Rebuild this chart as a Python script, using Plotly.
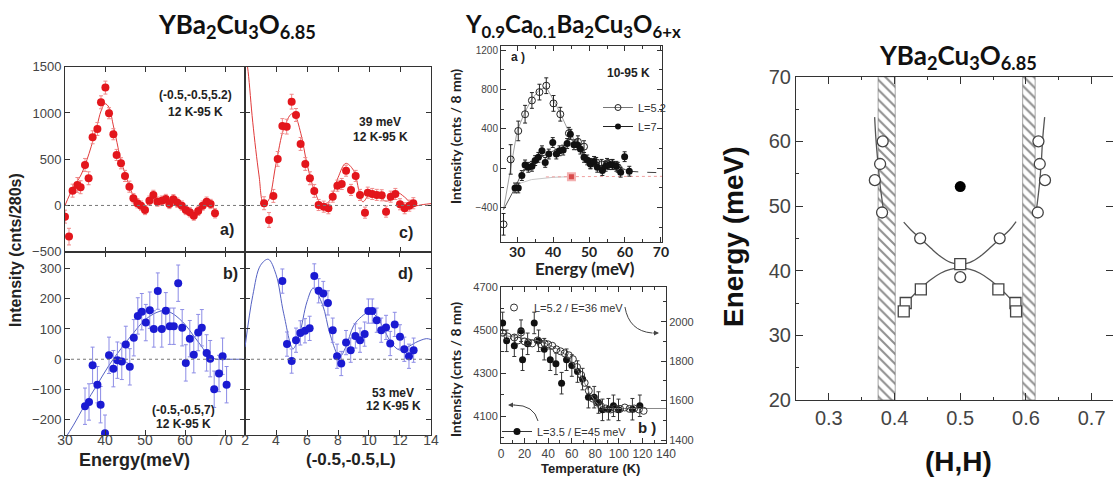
import plotly.graph_objects as go

W, H = 1113, 477
def X(px): return px / W
def Y(py): return 1 - py / H

# ---------------- DATA ----------------
# Left panel a) : energy scan at (-0.5,-0.5,5.2), 12K-95K (red)
a_energy = [30, 31, 31.9, 33.1, 33.9, 35, 35.9, 36.9, 38.1, 39, 40.1, 41, 42.1, 42.9, 44, 45, 46.1, 47.1, 48.1, 49,
            50, 51.1, 52.1, 53.1, 54.2, 55.2, 56.1, 57.1, 58.1, 59.2, 60.2, 61.2, 62.2, 63.3, 64.4, 65.4, 66.4, 67.5]
a_int = [-121, -337, 160, 222, 197, 438, 294, 737, 827, 1115, 1274, 997, 770, 546, 456, 319, 203, 78, 24, -2,
         -49, 52, 114, 41, 52, 70, 16, 67, 30, -2, -49, -74, -110, -59, -2, 41, 16, -85]
a_err = [70, 90, 70, 80, 70, 70, 70, 70, 70, 70, 70, 60, 60, 60, 60, 60, 60, 50, 50, 50,
         50, 50, 50, 50, 50, 50, 50, 50, 50, 50, 50, 50, 50, 50, 50, 50, 50, 50]
a_fit_energy = [30, 32, 34, 36, 38, 39, 40, 41, 42, 43, 44, 45, 46, 47, 48, 49, 50, 52, 54, 56, 58, 60, 62, 64, 66, 67.5]
a_fit_int = [0, 190, 330, 560, 860, 1020, 1100, 1060, 880, 680, 480, 350, 220, 110, 40, 5, -10, 60, 60, 50, 30, -30, -90, -20, 30, -60]

# Left panel c) : L scan at 39 meV (red)
c_L = [3.23, 3.55, 3.83, 4.11, 4.41, 4.69, 5.01, 5.29, 5.59, 5.89, 6.19, 6.47, 6.75, 7.08, 7.38, 7.66, 7.96,
       8.24, 8.52, 8.84, 9.14, 9.42, 9.74, 9.92, 10.21, 10.5, 10.82, 11.1, 11.4, 11.7, 12.0, 12.3, 12.6, 12.86]
c_int = [24, -157, 103, 503, 859, 852, 1122, 978, 665, 449, 294, 157, 5, -13, -30, 95, 214,
         232, 376, 168, 319, 114, -78, 138, 124, 114, 110, -67, 95, 124, 13, -30, -2, 24]
c_err = [70, 80, 70, 80, 80, 80, 80, 70, 70, 70, 70, 70, 60, 60, 60, 60, 60,
         60, 60, 60, 60, 60, 60, 60, 60, 60, 60, 60, 60, 60, 60, 60, 60, 60]
c_fit_L = [2.0, 2.2, 2.5, 2.9, 3.2, 3.5, 4.0, 4.5, 5.0, 5.2, 5.6, 6.0, 6.5, 7.0, 7.5, 8.0, 8.5, 9.0, 9.6,
           10.0, 10.6, 11.0, 11.4, 11.8, 12.3, 12.9, 13.5, 14.0]
c_fit_int = [1700, 1450, 900, 330, 20, 50, 450, 830, 990, 980, 780, 450, 150, 0, 60, 300, 455, 380, 40,
             110, 120, 50, 60, 140, 90, 0, 10, 20]

# Left panel b) : energy scan at (-0.5,-0.5,7) (blue)
b_energy = [35, 36, 36.9, 38.1, 38.9, 40, 41, 42.1, 43.1, 44.2, 45.2, 46.2, 47.2, 48.2, 49.2, 50.2, 51.2, 52.2,
            53.2, 54.2, 55.2, 56.2, 57.2, 58.3, 59.3, 60.2, 61.2, 62.2, 63.3, 64.2, 65.4, 66.3, 67.3, 68.5, 69.4, 70.4]
b_int = [-155, -141, -20, -84, -150, -244, 13, -31, -3, -7, 49, -25, 71, 143, 157, 121, 162, 100,
         225, 100, 160, 109, 109, 251, 104, -12, 68, 15, 88, 104, 21, 2, -99, -47, 10, -84]
b_err = [60] * 36
b_fit_energy = [30, 32, 35, 38, 41, 44, 47, 50, 53, 55, 57, 60, 62, 64, 66, 68, 70, 75]
b_fit_int = [-262, -220, -150, -85, -20, 35, 85, 130, 155, 160, 150, 115, 80, 45, 10, 0, 0, 0]

# Left panel d) : L scan at 53 meV (blue)
d_L = [4.41, 4.71, 5.01, 5.29, 5.57, 5.87, 6.17, 6.47, 6.75, 7.05, 7.35, 7.66, 7.94, 8.21, 8.52, 8.82, 9.12,
       9.42, 9.72, 9.96, 10.21, 10.5, 10.79, 11.1, 11.37, 11.66, 12.0, 12.28, 12.58, 12.88]
d_int = [258, 50, -6, 63, 87, 94, 102, 275, 226, 217, 186, 96, 10, -14, 55, 30, 77,
         63, 83, 159, 159, 129, 96, 105, 52, 115, 74, 33, 10, 30]
d_err = [40] * 30
d_fit_L = [2.0, 2.5, 3.0, 3.5, 4.0, 4.5, 5.1, 5.5, 6.0, 6.4, 7.0, 7.5, 8.1, 8.5, 9.0, 9.5, 10.06, 10.5,
           11.0, 11.5, 12.0, 12.5, 13.0, 13.7, 14.0]
d_fit_int = [40, 210, 310, 330, 280, 150, 35, 80, 190, 234, 180, 80, 8, 40, 110, 140, 157, 140,
             95, 50, 30, 40, 55, 68, 65]

# Middle top a) : Y0.9Ca0.1Ba2Cu3O6+x, 10-95 K
mt_E52 = [26.2, 28.2, 30.3, 32.2, 34.1, 36.2, 38.1, 40.1, 42.0, 44.4, 46.9, 48.6, 50.4, 52.0, 53.5, 55.0, 56.5, 58.0]
mt_I52 = [-570, 90, 380, 550, 690, 775, 840, 660, 550, 356, 270, 220, 50, 60, 40, 50, 40, 10]
mt_err52 = [110, 150, 100, 90, 80, 80, 80, 80, 70, 60, 60, 60, 50, 50, 50, 50, 50, 50]
mt_line52_E = [26.2, 28.0, 30.0, 32.0, 34.0, 36.0, 38.0, 40.0, 42.0, 44.0, 46.0, 48.0, 50.0, 52.0, 55.0, 60.0]
mt_line52_I = [-420, -20, 380, 560, 700, 790, 830, 700, 560, 400, 290, 170, 60, 30, 20, -10]
mt_E7 = [29.4, 30.3, 31.3, 32.2, 33.1, 34.1, 35, 35.9, 36.9, 37.8, 38.8, 39.9, 40.9, 41.8, 42.8, 43.9, 44.8,
         45.8, 46.7, 47.6, 48.6, 49.5, 50.4, 51.4, 52.3, 53.7, 54.6, 55.6, 56.5, 57.6, 58.8, 59.9, 61.2]
mt_I7 = [-200, -200, -74, 34, 10, 20, 78, 111, 178, 60, 145, 262, 145, 178, 185, 252, 346,
         239, 239, 195, 111, 85, 44, 70, 10, -23, 20, 37, 37, 20, -40, 118, -30]
mt_err7 = [50] * 33
mt_line7_E = [26.2, 29.4, 31, 33, 35, 37, 39, 41, 43, 44.8, 46.5, 48.5, 50.5, 53, 56, 59, 61.2]
mt_line7_I = [-420, -200, -70, 20, 80, 120, 160, 190, 220, 300, 240, 130, 60, 20, 30, 0, -30]
mt_tail_E = [61.2, 65, 70.3]
mt_tail_I = [-30, -40, -45]
mt_ref_E = [28.9, 31, 34, 37, 40, 45.1]
mt_ref_I = [-190, -150, -115, -100, -92, -85]
mt_refred_E = [38, 45.1, 70.3]
mt_refred_I = [-88, -85, -82]
mt_square_E = [45.1]
mt_square_I = [-85]

# Middle bottom b) : temperature dependence
mb_T_filled = [1.4, 4.8, 11.3, 17.0, 18.3, 22.6, 28.2, 31.9, 36.7, 41.8, 46.6, 51.4, 55.6, 60.1, 64.9, 69.2,
               74.2, 79.1, 82.7, 86.1, 91.2, 95.4, 99.7, 111.5, 117.8]
mb_I_filled = [4533, 4450, 4427, 4497, 4362, 4436, 4533, 4450, 4411, 4362, 4343, 4253, 4362, 4335, 4307, 4272,
               4188, 4188, 4163, 4129, 4132, 4148, 4129, 4132, 4148]
mb_err_filled = [50] * 25
mb_T_open = [1.4, 5.6, 11.3, 14.5, 17.0, 20.0, 23.0, 26.5, 31.0, 34.0, 37.0, 40.0, 43.5, 47.0, 50.5, 54.0, 57.5,
             61.0, 64.5, 68.0, 71.0, 74.5, 78.0, 81.5, 85.0, 89.0, 93.0, 97.0, 101.0, 105.0, 109.0, 113.0, 117.0, 121.0]
mb_I_open = [1944, 1925, 1920, 1905, 1945, 1900, 1895, 1890, 1905, 1885, 1890, 1885, 1878, 1860, 1850, 1840, 1830,
             1810, 1770, 1730, 1690, 1650, 1610, 1590, 1570, 1560, 1555, 1560, 1558, 1565, 1558, 1560, 1555, 1548]
mb_fit_T = [0, 10, 20, 30, 40, 50, 55, 60, 65, 70, 75, 80, 85, 90, 100, 120, 140]
mb_fit_I = [1932, 1925, 1915, 1905, 1885, 1855, 1830, 1800, 1755, 1700, 1640, 1595, 1565, 1560, 1560, 1560, 1560]

# Right panel : dispersion YBa2Cu3O6.85
r_circ_H = [0.370, 0.378, 0.382, 0.381, 0.619, 0.621, 0.629, 0.618, 0.439, 0.560, 0.500]
r_circ_E = [54.0, 56.5, 60.0, 49.0, 60.0, 56.5, 54.0, 49.0, 45.0, 45.0, 39.0]
r_sq_H = [0.500, 0.440, 0.558, 0.417, 0.414, 0.584, 0.585]
r_sq_E = [41.0, 37.1, 37.1, 35.0, 33.7, 35.0, 33.7]
r_dot_H = [0.5]
r_dot_E = [53.0]
r_left_H = [0.3697, 0.3717, 0.3747, 0.3782, 0.3834]
r_left_E = [63.75, 60.3, 56.7, 53.1, 49.2]
r_right_H = [0.6285, 0.6254, 0.6233, 0.6203, 0.6157]
r_right_E = [63.75, 60.3, 56.7, 53.1, 49.2]
r_curve_H = [0.414, 0.425, 0.44, 0.455, 0.47, 0.485, 0.5, 0.515, 0.53, 0.545, 0.56, 0.575, 0.585]
r_upper_E = [47.5, 46.3, 44.9, 43.5, 42.2, 41.3, 41.0, 41.3, 42.2, 43.5, 44.9, 46.3, 47.6]
r_lower_E = [34.2, 35.8, 37.3, 38.6, 39.6, 40.2, 40.4, 40.2, 39.6, 38.6, 37.3, 35.8, 34.2]
r_bands = [(0.375, 0.401), (0.595, 0.614)]
r_Erange = [20, 70]

# ---------------- STYLE ----------------
TICKF = "Liberation Sans, Arial, sans-serif"
TITF = "Lato, 'Open Sans', sans-serif"
RED, RED_E, RED_L = "#e3161c", "#f08a8a", "#e03a3a"
BLUE, BLUE_E, BLUE_L = "#1a1ad2", "#8c8ce6", "#5562c4"
INK = "#333333"

fig = go.Figure()

def add(x, y, xa, ya, **kw):
    kw.setdefault("showlegend", False)
    fig.add_trace(go.Scatter(x=x, y=y, xaxis=xa, yaxis=ya, **kw))

def errs(arr, color):
    return dict(type="data", array=arr, visible=True, color=color, thickness=1, width=2)

# left panels
add(a_fit_energy, a_fit_int, "x", "y", mode="lines", line=dict(color=RED_L, width=1, shape="spline"))
add(a_energy, a_int, "x", "y", mode="markers", marker=dict(color=RED, size=8), error_y=errs(a_err, RED_E))
add(c_fit_L, c_fit_int, "x2", "y2", mode="lines", line=dict(color=RED_L, width=1, shape="spline"))
add(c_L, c_int, "x2", "y2", mode="markers", marker=dict(color=RED, size=8), error_y=errs(c_err, RED_E))
add(b_fit_energy, b_fit_int, "x3", "y3", mode="lines", line=dict(color=BLUE_L, width=1, shape="spline"))
add(b_energy, b_int, "x3", "y3", mode="markers", marker=dict(color=BLUE, size=8), error_y=errs(b_err, BLUE_E))
add(d_fit_L, d_fit_int, "x4", "y4", mode="lines", line=dict(color=BLUE_L, width=1, shape="spline"))
add(d_L, d_int, "x4", "y4", mode="markers", marker=dict(color=BLUE, size=8), error_y=errs(d_err, BLUE_E))

# middle top
add(mt_ref_E, mt_ref_I, "x5", "y5", mode="lines", line=dict(color="#c8c8c8", width=1))
add(mt_refred_E, mt_refred_I, "x5", "y5", mode="lines", line=dict(color="#f0a0a0", width=1, dash="dot"))
add(mt_square_E, mt_square_I, "x5", "y5", mode="markers",
    marker=dict(symbol="square", color="#d84a4a", size=7, line=dict(color="#f3b0b0", width=2)))
add(mt_line52_E, mt_line52_I, "x5", "y5", mode="lines", line=dict(color="#a0a0a0", width=1))
add(mt_line7_E, mt_line7_I, "x5", "y5", mode="lines", line=dict(color="#555555", width=1))
add(mt_tail_E, mt_tail_I, "x5", "y5", mode="lines", line=dict(color="#444444", width=1, dash="dash"))
add(mt_E52, mt_I52, "x5", "y5", mode="markers",
    marker=dict(symbol="circle-open", color="#222", size=7, line=dict(width=1)), error_y=errs(mt_err52, "#222"))
add(mt_E7, mt_I7, "x5", "y5", mode="markers", marker=dict(color="#111", size=7), error_y=errs(mt_err7, "#222"))
fig.add_trace(go.Scatter(x=[None], y=[None], xaxis="x5", yaxis="y5", name="L=5.2", mode="lines+markers",
                         line=dict(color="#777", width=1),
                         marker=dict(symbol="circle-open", color="#222", size=6, line=dict(width=1)), legend="legend"))
fig.add_trace(go.Scatter(x=[None], y=[None], xaxis="x5", yaxis="y5", name="L=7", mode="lines+markers",
                         line=dict(color="#222", width=1), marker=dict(color="#111", size=6), legend="legend"))

# middle bottom
add(mb_fit_T, mb_fit_I, "x6", "y7", mode="lines", line=dict(color="#888", width=1))
add(mb_T_open, mb_I_open, "x6", "y7", mode="markers",
    marker=dict(symbol="circle-open", color="#333", size=7, line=dict(width=1)))
add(mb_T_filled, mb_I_filled, "x6", "y6", mode="markers", marker=dict(color="#111", size=7),
    error_y=errs(mb_err_filled, "#333"))
fig.add_trace(go.Scatter(x=[None], y=[None], xaxis="x6", yaxis="y6", name="L=5.2 / E=36 meV", mode="markers",
                         marker=dict(symbol="circle-open", color="#333", size=7, line=dict(width=1)), legend="legend2"))
fig.add_trace(go.Scatter(x=[None], y=[None], xaxis="x6", yaxis="y6", name="L=3.5 / E=45 meV", mode="lines+markers",
                         line=dict(color="#333", width=1), marker=dict(color="#111", size=7), legend="legend3"))

# right panel
for (h0, h1) in r_bands:
    add([h0, h1, h1, h0, h0], [r_Erange[0], r_Erange[0], r_Erange[1], r_Erange[1], r_Erange[0]], "x7", "y8",
        mode="lines", fill="toself", fillcolor="white", line=dict(color="#666", width=0.6),
        fillpattern=dict(shape="\\", fgcolor="#222", bgcolor="white", size=7, solidity=0.3))
for hx, ey in [(r_left_H, r_left_E), (r_right_H, r_right_E), (r_curve_H, r_upper_E), (r_curve_H, r_lower_E)]:
    add(hx, ey, "x7", "y8", mode="lines", line=dict(color="#555", width=1.3, shape="spline"))
add(r_circ_H, r_circ_E, "x7", "y8", mode="markers",
    marker=dict(symbol="circle", color="white", size=11, line=dict(color="#444", width=1.3)))
add(r_sq_H, r_sq_E, "x7", "y8", mode="markers",
    marker=dict(symbol="square", color="white", size=11, line=dict(color="#444", width=1.3)))
add(r_dot_H, r_dot_E, "x7", "y8", mode="markers", marker=dict(color="black", size=11))
add([None], [None], "x7", "y9", mode="markers")

# ---------------- AXES ----------------
def axis(dom, rng, dtick, anchor, labels=True, size=13, minor=None, tick0=None, font=TICKF, weight="normal",
         ticklen=5, mirror="ticks", color="#444", standoff=0):
    d = dict(domain=dom, range=rng, dtick=dtick, anchor=anchor, showline=True, linecolor=INK, linewidth=1,
             mirror=mirror, ticks="inside", ticklen=ticklen, tickcolor=INK, showgrid=False, zeroline=False,
             showticklabels=labels, automargin=False, ticklabelstandoff=standoff,
             tickfont=dict(family=font, size=size, color=color, weight=weight))
    if tick0 is not None:
        d["tick0"] = tick0
    if minor is not None:
        d["minor"] = dict(ticks="inside", dtick=minor, ticklen=3, tickcolor=INK)
    return d

xa = [X(65), X(245)]
xc = [X(245), X(431)]
ytop = [Y(251.7), Y(66.7)]
ybot = [Y(435), Y(251.7)]

lay = {}
lay["xaxis"] = axis(xa, [30, 75], 10, "y", labels=False, tick0=30)
lay["yaxis"] = axis(ytop, [-500, 1500], 500, "x")
lay["xaxis2"] = axis(xc, [2, 14], 2, "y2", labels=False, tick0=2)
lay["yaxis2"] = axis(ytop, [-500, 1500], 500, "x2", labels=False)
lay["xaxis3"] = axis(xa, [30, 75], 10, "y3", tick0=30, size=14, standoff=-8)
lay["yaxis3"] = axis(ybot, [-250, 355], 100, "x3")
lay["xaxis4"] = axis(xc, [1.999, 14.001], 2, "y4", tick0=2, size=14, standoff=-8)
lay["yaxis4"] = axis(ybot, [-250, 355], 100, "x4", labels=False)

lay["xaxis5"] = axis([X(501), X(662)], [25.5, 70.3], 10, "y5", tick0=30, size=14, minor=5, font=TITF,
                     weight="bold", color="#222", standoff=-3)
lay["yaxis5"] = axis([Y(242), Y(46)], [-750, 1244], 400, "x5", tick0=0, size=10, minor=200)
lay["xaxis6"] = axis([X(501), X(666)], [0, 140], 20, "y6", tick0=0, size=12, minor=10)
lay["yaxis6"] = axis([Y(443), Y(287)], [3975, 4700], 200, "x6", tick0=4100, size=11, minor=100, mirror=False)
lay["yaxis7"] = dict(overlaying="y6", side="right", anchor="x6", range=[1385, 2176], dtick=200, tick0=1400,
                     ticks="inside", ticklen=5, tickcolor=INK, showline=True, linecolor=INK, showgrid=False,
                     zeroline=False, automargin=False,
                     minor=dict(ticks="inside", dtick=100, ticklen=3, tickcolor=INK),
                     tickfont=dict(family=TICKF, size=11, color="#444"))

lay["xaxis7"] = axis([X(796), 1.0], [0.25, 0.7325], 0.1, "y8", tick0=0.3, size=20, minor=0.05, ticklen=7)
lay["yaxis8"] = axis([Y(400), Y(76.7)], [20, 70], 10, "x7", tick0=20, size=20, minor=5, ticklen=7, mirror=False)
lay["yaxis9"] = dict(overlaying="y8", side="right", anchor="x7", range=[20, 70], dtick=10, tick0=20,
                     ticks="inside", ticklen=7, tickcolor=INK, showline=False, showgrid=False, zeroline=False,
                     showticklabels=False, automargin=False)
fig.update_layout(**lay)

# zero dotted lines
for xr, yr in [("x", "y"), ("x2", "y2"), ("x3", "y3"), ("x4", "y4")]:
    fig.add_shape(type="line", xref=xr + " domain", yref=yr, x0=0, x1=1, y0=0, y1=0,
                  line=dict(color="#777", width=1, dash="dot"))

# curved arrows in middle bottom panel
fig.add_shape(type="path", xref="paper", yref="paper",
              path=f"M {X(625):.4f},{Y(307):.4f} Q {X(629):.4f},{Y(331):.4f} {X(652):.4f},{Y(333):.4f}",
              line=dict(color="#444", width=1))
fig.add_shape(type="path", xref="paper", yref="paper",
              path=f"M {X(538):.4f},{Y(421):.4f} Q {X(534):.4f},{Y(405):.4f} {X(514):.4f},{Y(405):.4f}",
              line=dict(color="#444", width=1))

ann = []
def T(px, py, text, size, bold=True, font=TICKF, color="#222", angle=0, xanchor="center", yanchor="middle"):
    t = f"<b>{text}</b>" if bold else text
    ann.append(dict(x=X(px), y=Y(py), xref="paper", yref="paper", text=t, showarrow=False,
                    font=dict(family=font, size=size, color=color), textangle=angle,
                    xanchor=xanchor, yanchor=yanchor))

formula = "YBa<sub>2</sub>Cu<sub>3</sub>O<sub>6.85</sub>"
T(237, 25, formula, 26, font=TITF, color="#111")
T(573, 25, "Y<sub>0.9</sub>Ca<sub>0.1</sub>Ba<sub>2</sub>Cu<sub>3</sub>O<sub>6+x</sub>", 24, font=TITF, color="#111")
T(958, 57, formula, 26, font=TITF, color="#111")

T(15, 250, "Intensity (cnts/280s)", 16, angle=-90)
T(134, 460, "Energy(meV)", 18)
T(351, 459, "(-0.5,-0.5,L)", 17)
T(195, 95, "(-0.5,-0.5,5.2)", 12)
T(195, 112, "12 K-95 K", 12)
T(380, 122, "39 meV", 12)
T(380, 137, "12 K-95 K", 12)
T(183, 410, "(-0.5,-0.5,7)", 12)
T(183, 424, "12 K-95 K", 12)
T(393, 393, "53 meV", 12)
T(393, 406, "12 K-95 K", 12)
T(227, 230, "a)", 16)
T(406, 233, "c)", 16)
T(230, 273, "b)", 16)
T(405, 273, "d)", 16)

T(455, 137, "Intensity (cnts / 8 mn)", 14, font=TITF, angle=-90)
T(455, 370, "Intensity (cnts / 8 mn)", 14, font=TITF, angle=-90)
T(585, 268, "Energy (meV)", 17, font=TITF)
T(590, 468, "Temperature (K)", 13)
T(518, 57, "a )", 12)
T(628, 73, "10-95 K", 12)
T(647, 427, "b )", 15)

T(733, 237, "Energy (meV)", 28, angle=-90, color="#111")
T(958, 461, "(H,H)", 28, color="#111")

fig.update_layout(annotations=ann)
fig.add_annotation(x=X(659), y=Y(333), ax=-8, ay=0, xref="paper", yref="paper", text="", showarrow=True,
                   arrowhead=2, arrowsize=1, arrowwidth=1, arrowcolor="#444")
fig.add_annotation(x=X(508), y=Y(405), ax=8, ay=0, xref="paper", yref="paper", text="", showarrow=True,
                   arrowhead=2, arrowsize=1, arrowwidth=1, arrowcolor="#444")

leg_common = dict(bgcolor="rgba(0,0,0,0)", font=dict(family=TICKF, size=11, color="#333"), itemwidth=30,
                  xanchor="left", yanchor="top", tracegroupgap=0, borderwidth=0)
fig.update_layout(
    legend=dict(x=X(598), y=Y(93), **leg_common),
    legend2=dict(x=X(494), y=Y(293), **leg_common),
    legend3=dict(x=X(497), y=Y(417), **leg_common),
    width=W, height=H, margin=dict(l=0, r=0, t=0, b=0, pad=0, autoexpand=False),
    paper_bgcolor="white", plot_bgcolor="white",
)

fig.write_html("out.html", config={"displayModeBar": False},
               post_script="document.body.style.margin='0px';document.body.style.overflow='hidden';")
